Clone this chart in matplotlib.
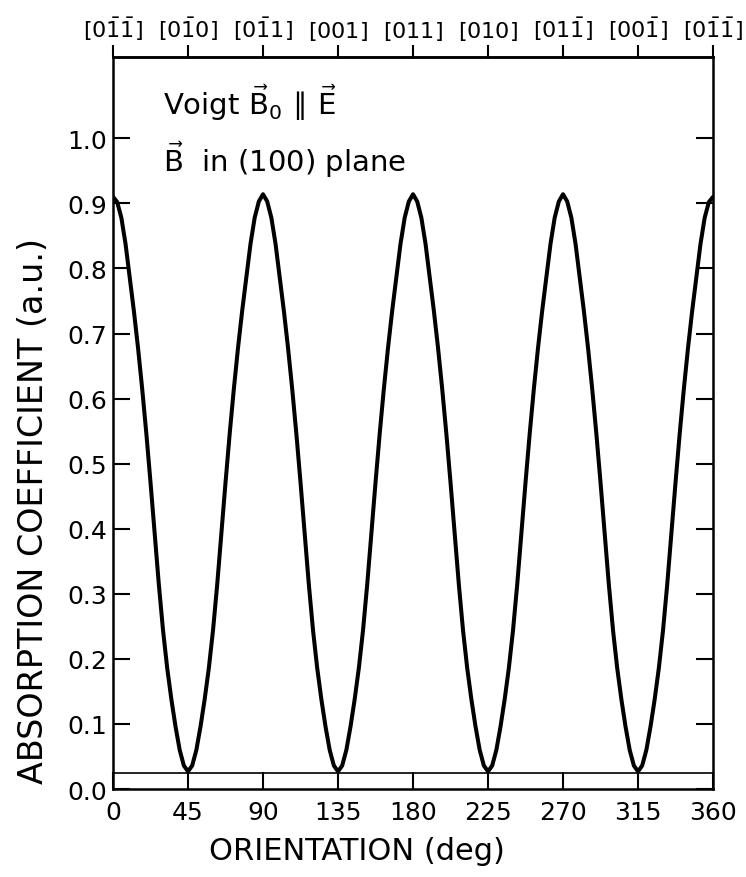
import matplotlib
matplotlib.use('Agg')
import matplotlib.pyplot as plt
import numpy as np

plt.rcParams['font.family'] = 'DejaVu Sans'
plt.rcParams['mathtext.fontset'] = 'dejavusans'

# orientation of B in the (100) plane, deg
angle = np.arange(0, 362.5, 2.5)

# absorption coefficient (a.u.) every 2.5 deg
absorption = [
   0.910, 0.902, 0.878, 0.838, 0.787, 0.735, 0.678, 0.615, 0.546, 0.471,
   0.393, 0.314, 0.244, 0.186, 0.138, 0.096, 0.060, 0.036, 0.027,
   0.036, 0.060, 0.096, 0.138, 0.186, 0.244, 0.314, 0.393, 0.471, 0.546,
   0.615, 0.678, 0.735, 0.787, 0.838, 0.878, 0.903, 0.914,
   0.903, 0.878, 0.838, 0.787, 0.735, 0.678, 0.615, 0.546, 0.471, 0.393,
   0.314, 0.244, 0.186, 0.138, 0.096, 0.060, 0.036, 0.027,
   0.036, 0.060, 0.096, 0.138, 0.186, 0.244, 0.314, 0.393, 0.471, 0.546,
   0.615, 0.678, 0.735, 0.787, 0.838, 0.878, 0.903, 0.914,
   0.903, 0.878, 0.838, 0.787, 0.735, 0.678, 0.615, 0.546, 0.471, 0.393,
   0.314, 0.244, 0.186, 0.138, 0.096, 0.060, 0.036, 0.027,
   0.036, 0.060, 0.096, 0.138, 0.186, 0.244, 0.314, 0.393, 0.471, 0.546,
   0.615, 0.678, 0.735, 0.787, 0.838, 0.878, 0.903, 0.914,
   0.903, 0.878, 0.838, 0.787, 0.735, 0.678, 0.615, 0.546, 0.471, 0.393,
   0.314, 0.244, 0.186, 0.138, 0.096, 0.060, 0.036, 0.027,
   0.036, 0.060, 0.096, 0.138, 0.186, 0.244, 0.314, 0.393, 0.471, 0.546,
   0.615, 0.678, 0.735, 0.787, 0.838, 0.878, 0.902, 0.910,
]

baseline_level = 0.025  # flat background line

x_ticks = [0, 45, 90, 135, 180, 225, 270, 315, 360]
top_labels = [
   r'$[0\bar{1}\bar{1}]$', r'$[0\bar{1}0]$', r'$[0\bar{1}1]$',
   r'$[001]$', r'$[011]$', r'$[010]$', r'$[01\bar{1}]$',
   r'$[00\bar{1}]$', r'$[0\bar{1}\bar{1}]$',
]
y_ticks = [0.0, 0.1, 0.2, 0.3, 0.4, 0.5, 0.6, 0.7, 0.8, 0.9, 1.0]

fig = plt.figure(figsize=(7.46, 8.78), dpi=100)
ax = fig.add_axes([0.1515, 0.1002, 0.8043, 0.8338])

ax.plot(angle, absorption, color='black', lw=2.9,
        solid_capstyle='round', solid_joinstyle='round')
ax.axhline(baseline_level, color='black', lw=1.2)

ax.set_xlim(0, 360)
ax.set_ylim(0, 1.125)
ax.set_xticks(x_ticks)
ax.set_yticks(y_ticks)
ax.set_yticklabels([f'{v:.1f}' for v in y_ticks])

ax.tick_params(axis='both', direction='in', length=12, width=1.5, labelsize=18)
ax.tick_params(axis='y', right=True, pad=4)
ax.tick_params(axis='x', pad=8)
for s in ax.spines.values():
   s.set_linewidth(1.8)

top = ax.secondary_xaxis('top')
top.set_xticks(x_ticks, labels=top_labels)
top.tick_params(direction='out', length=9, width=1.5, labelsize=16, pad=2)
top.spines['top'].set_linewidth(1.8)

ax.set_xlabel('ORIENTATION (deg)', fontsize=22)
ax.xaxis.set_label_coords(0.407, -0.064)
ax.set_ylabel('ABSORPTION COEFFICIENT (a.u.)', fontsize=24)
ax.yaxis.set_label_coords(-0.105, 0.381)

ax.text(0.083, 0.922, r'Voigt $\vec{\mathrm{B}}_0\,\parallel\,\vec{\mathrm{E}}$',
        transform=ax.transAxes, fontsize=21, va='baseline')
ax.text(0.083, 0.844, r'$\vec{\mathrm{B}}$  in (100) plane',
        transform=ax.transAxes, fontsize=21, va='baseline')

fig.savefig('out.png', dpi=100)
